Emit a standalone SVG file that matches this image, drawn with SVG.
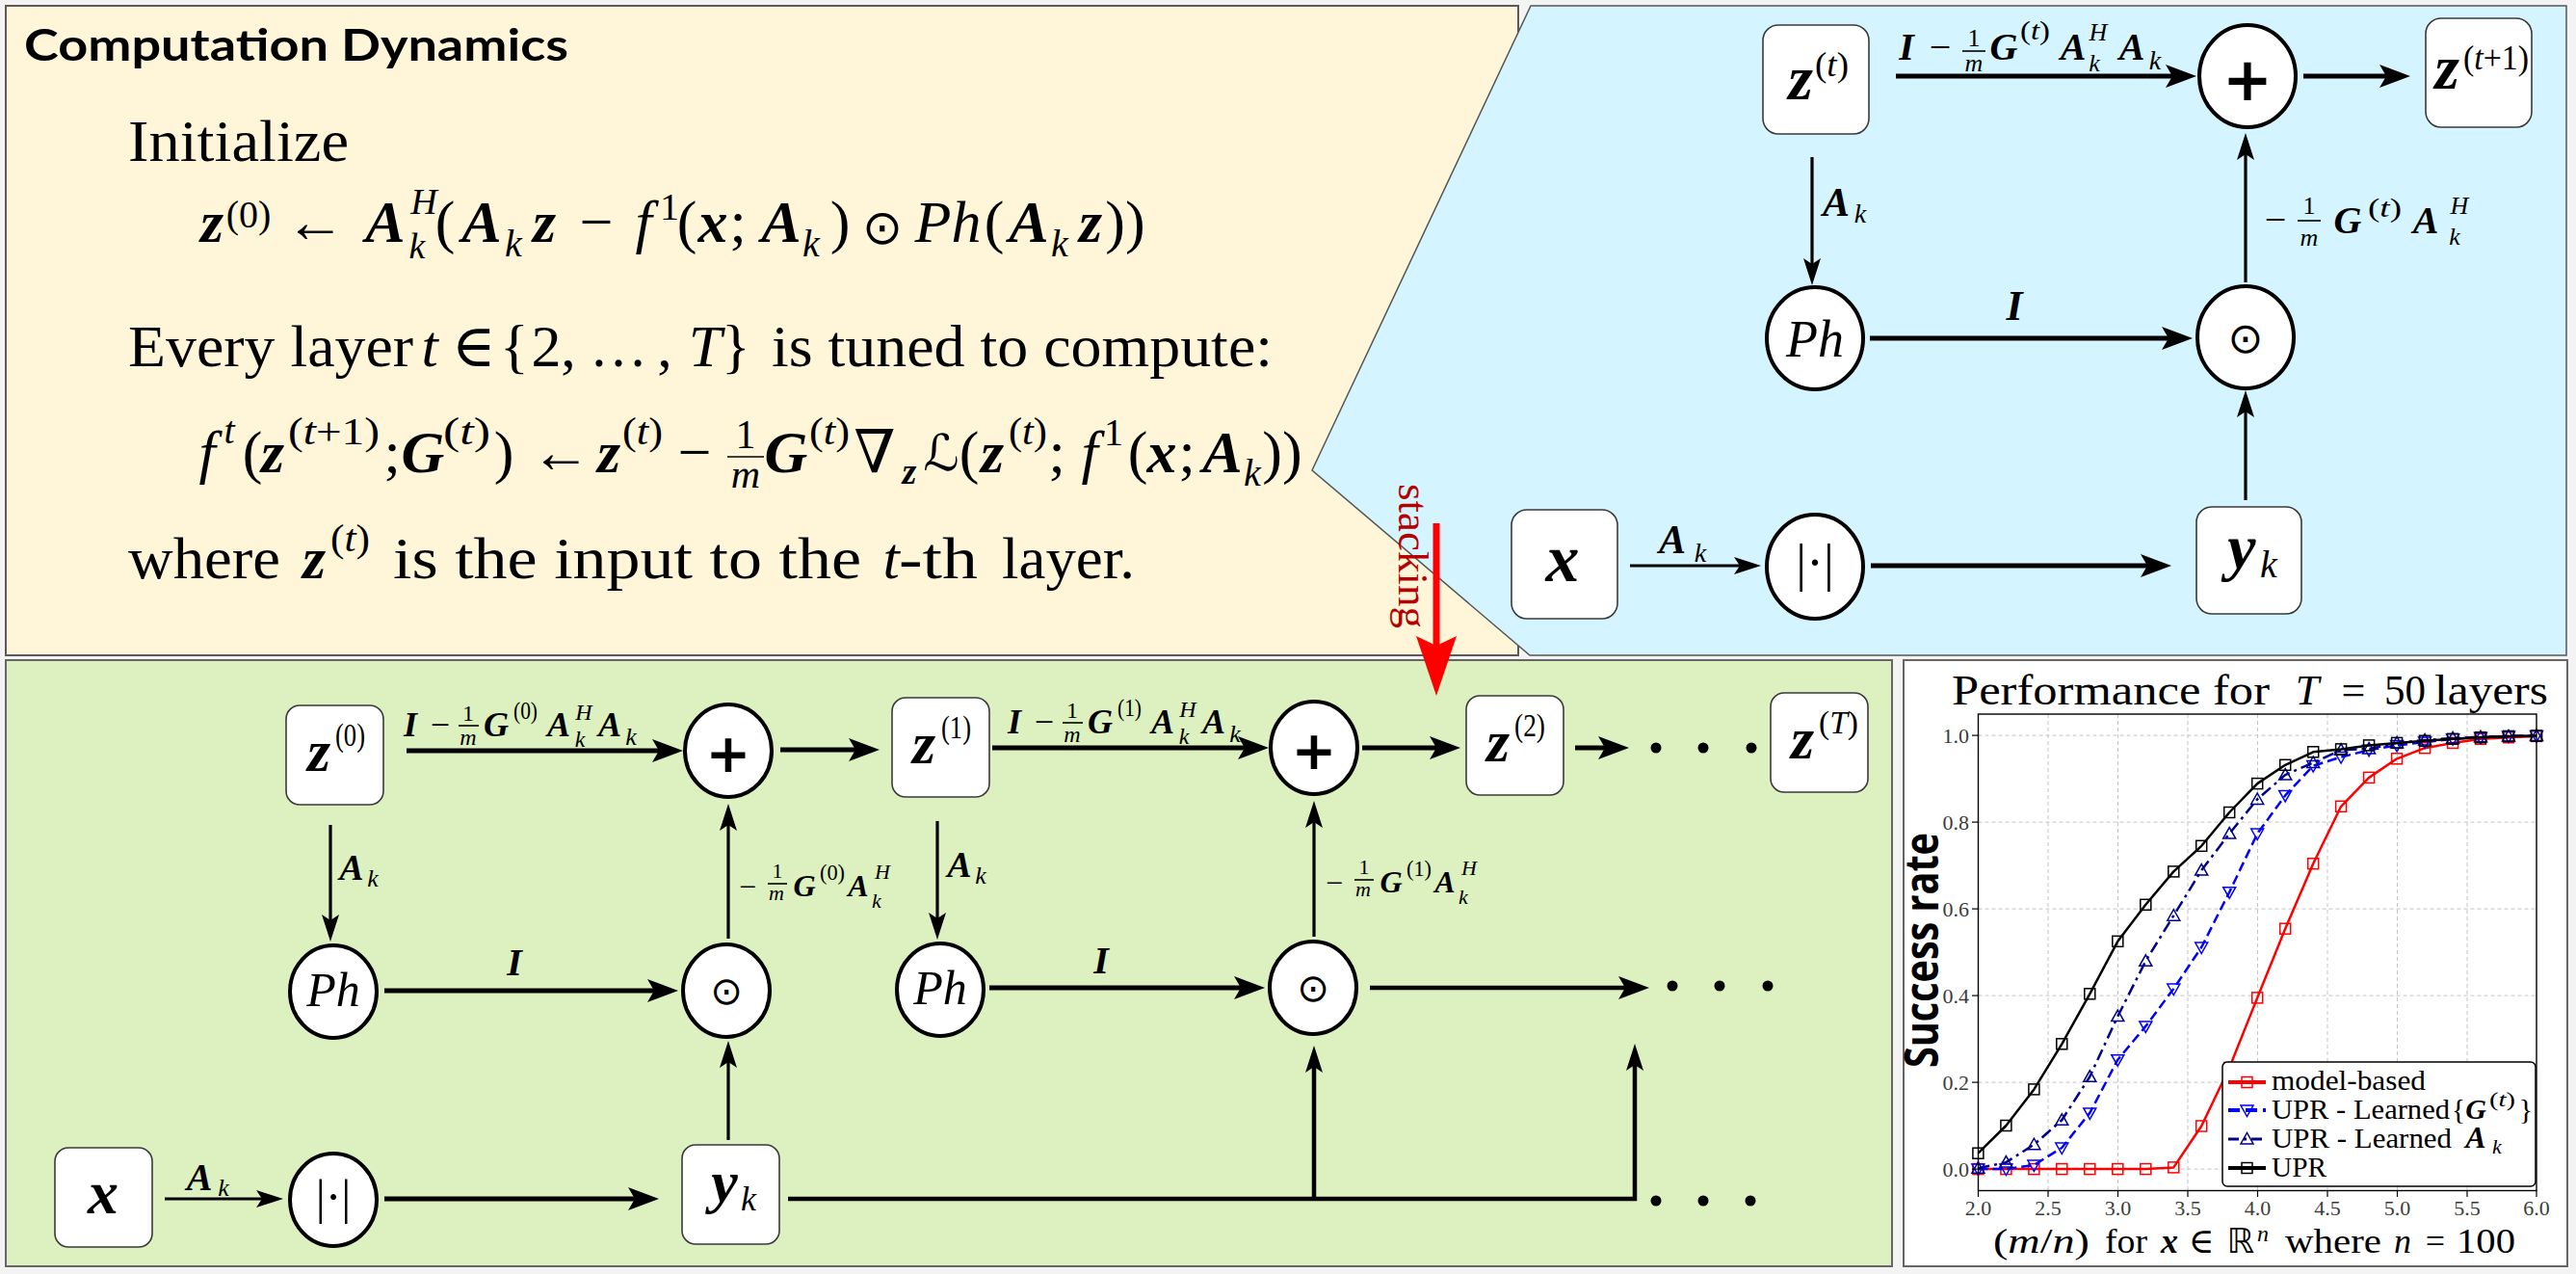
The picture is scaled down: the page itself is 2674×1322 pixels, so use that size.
<svg xmlns="http://www.w3.org/2000/svg" width="2674" height="1322" viewBox="0 0 2674 1322">
<defs>
<style>
.t{font-family:"Liberation Serif","DejaVu Serif",serif;fill:#000}
.i{font-style:italic}
.b{font-style:italic;font-weight:bold}
.m{text-anchor:middle}
.sy{font-family:"DejaVu Sans",sans-serif}
.box{fill:#fff;stroke:#3a3a3a;stroke-width:1.6}
.cir{fill:#fff;stroke:#000;stroke-width:4}
.ln{fill:none;stroke:#000}
.w5{stroke-width:5;marker-end:url(#ah)}
.w3{stroke-width:3.2;marker-end:url(#as)}
.grid{stroke:#c4c4c4;stroke-width:1;stroke-dasharray:4 3}
.tick{font-family:"Liberation Serif","DejaVu Serif",serif;font-size:22px;fill:#3c3c3c}
.bar{stroke:#000;stroke-width:1.6}
</style>
<marker id="ah" markerUnits="userSpaceOnUse" viewBox="-20 -20 40 40" markerWidth="40" markerHeight="40" refX="0" refY="0" orient="auto" overflow="visible"><path d="M22,0 L-10,-12 L-3,0 L-10,12 Z" fill="#000"/></marker>
<marker id="as" markerUnits="userSpaceOnUse" viewBox="-20 -20 40 40" markerWidth="40" markerHeight="40" refX="0" refY="0" orient="auto" overflow="visible"><path d="M18,0 L-10,-9 L-4,0 L-10,9 Z" fill="#000"/></marker>
<marker id="ar" markerUnits="userSpaceOnUse" viewBox="-40 -40 80 80" markerWidth="80" markerHeight="80" refX="0" refY="0" orient="auto" overflow="visible"><path d="M32,0 L-30,-21 L-20,0 L-30,21 Z" fill="#ff0000"/></marker>
<marker id="sqR" markerUnits="userSpaceOnUse" viewBox="-8 -8 16 16" markerWidth="16" markerHeight="16" refX="0" refY="0" overflow="visible"><rect x="-5.5" y="-5.5" width="11" height="11" fill="none" stroke="#ff0000" stroke-width="1.5"/></marker>
<marker id="sqK" markerUnits="userSpaceOnUse" viewBox="-8 -8 16 16" markerWidth="16" markerHeight="16" refX="0" refY="0" overflow="visible"><rect x="-5.5" y="-5.5" width="11" height="11" fill="none" stroke="#000" stroke-width="1.5"/></marker>
<marker id="tdB" markerUnits="userSpaceOnUse" viewBox="-8 -8 16 16" markerWidth="16" markerHeight="16" refX="0" refY="0" overflow="visible"><path d="M-6.5,-5 L6.5,-5 L0,6.5 Z" fill="none" stroke="#0000ff" stroke-width="1.5"/></marker>
<marker id="tuN" markerUnits="userSpaceOnUse" viewBox="-8 -8 16 16" markerWidth="16" markerHeight="16" refX="0" refY="0" overflow="visible"><path d="M-6.5,5 L6.5,5 L0,-6.5 Z" fill="none" stroke="#00008b" stroke-width="1.5"/></marker>
</defs>

<rect x="0" y="0" width="2674" height="1322" fill="#f3f3f3"/>

<!-- panels -->
<g id="panels">
<rect x="6" y="6" width="1570" height="674" fill="#fff5d8" stroke="#5a5a5a" stroke-width="2"/>
<polygon points="1589,6 2664,6 2664,680 1588,680 1362,488" fill="#d4f4ff" stroke="#555" stroke-width="1.5"/>
<rect x="6" y="685" width="1958" height="629" fill="#dcf0c0" stroke="#666" stroke-width="2"/>
<rect x="1976" y="685" width="689" height="629" fill="#fff" stroke="#666" stroke-width="2"/>
</g>

<!-- text panel -->
<g id="text-panel" class="t">
<text x="25" y="63" font-family="Lato,'Open Sans',sans-serif" font-weight="bold" font-size="46" textLength="565" lengthAdjust="spacingAndGlyphs">Computation Dynamics</text>
<text x="133" y="167" font-size="62" textLength="229" lengthAdjust="spacingAndGlyphs">Initialize</text>
<g font-size="62">
<text class="b m" x="220" y="251">z</text>
<text class="m" x="258" y="236" font-size="40">(0)</text>
<text class="m" x="327" y="251">←</text>
<text class="b m" x="400" y="251">A</text>
<text class="i m" x="440" y="222" font-size="38">H</text>
<text class="i m" x="433" y="268" font-size="38">k</text>
<text class="m" x="462" y="251">(</text>
<text class="b m" x="500" y="251">A</text>
<text class="i m" x="533" y="266" font-size="40">k</text>
<text class="b m" x="565" y="251">z</text>
<text class="m" x="619" y="251">−</text>
<text class="i m" x="668" y="251">f</text>
<text class="m" x="695" y="228" font-size="40">1</text>
<text class="m" x="713" y="251">(</text>
<text class="b m" x="740" y="251">x</text>
<text class="m" x="766" y="251">;</text>
<text class="b m" x="811" y="251">A</text>
<text class="i m" x="842" y="266" font-size="40">k</text>
<text class="m" x="872" y="251">)</text>
<text class="m sy" x="916" y="253" font-size="50">⊙</text>
<text class="i m" x="984" y="251">Ph</text>
<text class="m" x="1032" y="251">(</text>
<text class="b m" x="1068" y="251">A</text>
<text class="i m" x="1100" y="266" font-size="40">k</text>
<text class="b m" x="1132" y="251">z</text>
<text class="m" x="1168" y="251">))</text>

<text x="133" y="380" textLength="296" lengthAdjust="spacingAndGlyphs">Every layer</text>
<text class="i m" x="446" y="380">t</text>
<text class="m" x="492" y="380">∈</text>
<text class="m" x="534" y="380">{</text>
<text class="m" x="567" y="380">2</text>
<text class="m" x="590" y="380">,</text>
<text x="612" y="380" textLength="60" lengthAdjust="spacingAndGlyphs">…</text>
<text class="m" x="690" y="380">,</text>
<text class="i m" x="732" y="380">T</text>
<text class="m" x="764" y="380">}</text>
<text x="801" y="380" textLength="520" lengthAdjust="spacingAndGlyphs">is tuned to compute:</text>

<text class="i m" x="215" y="490">f</text>
<text class="i m" x="238" y="460" font-size="40">t</text>
<text class="m" x="262" y="490">(</text>
<text class="b m" x="283" y="490">z</text>
<text x="299" y="461" font-size="40" textLength="95" lengthAdjust="spacingAndGlyphs">(<tspan class="i">t</tspan>+1)</text>
<text class="m" x="407" y="490">;</text>
<text class="b m" x="439" y="490">G</text>
<text x="460" y="461" font-size="40" textLength="49" lengthAdjust="spacingAndGlyphs">(<tspan class="i">t</tspan>)</text>
<text class="m" x="523" y="490">)</text>
<text class="m" x="582" y="490">←</text>
<text class="b m" x="632" y="490">z</text>
<text x="646" y="461" font-size="40" textLength="42" lengthAdjust="spacingAndGlyphs">(<tspan class="i">t</tspan>)</text>
<text class="m" x="721" y="490">−</text>
<text class="m" x="774" y="465" font-size="42">1</text>
<line class="bar" x1="755" y1="474" x2="793" y2="474"/>
<text class="i m" x="774" y="506" font-size="42">m</text>
<text class="b m" x="816" y="490">G</text>
<text x="840" y="461" font-size="40" textLength="42" lengthAdjust="spacingAndGlyphs">(<tspan class="i">t</tspan>)</text>
<text class="m" x="908" y="490">∇</text>
<text class="b m" x="944" y="502" font-size="38">z</text>
<text class="m sy i" x="977" y="488" font-size="52">ℒ</text>
<text class="m" x="1006" y="490">(</text>
<text class="b m" x="1030" y="490">z</text>
<text x="1047" y="461" font-size="40" textLength="40" lengthAdjust="spacingAndGlyphs">(<tspan class="i">t</tspan>)</text>
<text class="m" x="1097" y="490">;</text>
<text class="i m" x="1131" y="490">f</text>
<text class="m" x="1156" y="462" font-size="40">1</text>
<text class="m" x="1181" y="490">(</text>
<text class="b m" x="1206" y="490">x</text>
<text class="m" x="1232" y="490">;</text>
<text class="b m" x="1269" y="490">A</text>
<text class="i m" x="1300" y="504" font-size="40">k</text>
<text class="m" x="1331" y="490">))</text>

<text x="133" y="600" textLength="158" lengthAdjust="spacingAndGlyphs">where</text>
<text class="b m" x="326" y="600">z</text>
<text x="343" y="572" font-size="40" textLength="41" lengthAdjust="spacingAndGlyphs">(<tspan class="i">t</tspan>)</text>
<text x="408" y="600" textLength="486" lengthAdjust="spacingAndGlyphs">is the input to the</text>
<text class="i m" x="925" y="600">t</text>
<text x="933" y="600" textLength="82" lengthAdjust="spacingAndGlyphs">-th</text>
<text x="1040" y="600" textLength="138" lengthAdjust="spacingAndGlyphs">layer.</text>
</g>
</g>

<!-- blue panel: single layer -->
<g id="blue-connectors" class="ln">
<path class="w5" d="M1968,79 H2258"/>
<path class="w5" d="M2391,79 H2480"/>
<path class="w3" d="M1881,163 V278"/>
<path class="w5" d="M1941,351 H2254"/>
<path class="w3" d="M2331,293 V156"/>
<path class="w3" d="M2331,519 V423"/>
<path class="w3" d="M1692,587 H1810"/>
<path class="w5" d="M1942,587 H2232"/>
</g>
<g id="blue-labels" class="t">
<text class="b m" x="1979" y="62" font-size="40">I</text>
<text class="m" x="2014" y="62" font-size="40">−</text>
<text class="m" x="2049" y="48" font-size="26">1</text>
<line class="bar" x1="2037" y1="53" x2="2061" y2="53"/>
<text class="i m" x="2049" y="74" font-size="26">m</text>
<text class="b m" x="2080" y="62" font-size="40">G</text>
<text x="2097" y="41" font-size="28" textLength="31" lengthAdjust="spacingAndGlyphs">(<tspan class="i">t</tspan>)</text>
<text class="b m" x="2152" y="62" font-size="40">A</text>
<text class="i m" x="2178" y="42" font-size="26">H</text>
<text class="i m" x="2174" y="74" font-size="26">k</text>
<text class="b m" x="2213" y="62" font-size="40">A</text>
<text class="i m" x="2237" y="72" font-size="28">k</text>

<text class="b m" x="1906" y="224" font-size="42">A</text>
<text class="i m" x="1931" y="231" font-size="28">k</text>

<text class="b m" x="2091" y="332" font-size="44">I</text>

<text class="m" x="2362" y="241" font-size="40">−</text>
<text class="m" x="2397" y="222" font-size="26">1</text>
<line class="bar" x1="2385" y1="229" x2="2409" y2="229"/>
<text class="i m" x="2397" y="255" font-size="26">m</text>
<text class="b m" x="2437" y="242" font-size="40">G</text>
<text x="2458" y="225" font-size="28" textLength="35" lengthAdjust="spacingAndGlyphs">(<tspan class="i">t</tspan>)</text>
<text class="b m" x="2518" y="242" font-size="40">A</text>
<text class="i m" x="2553" y="222" font-size="26">H</text>
<text class="i m" x="2548" y="254" font-size="26">k</text>

<text class="b m" x="1736" y="574" font-size="42">A</text>
<text class="i m" x="1765" y="583" font-size="28">k</text>
</g>
<g id="b-zt" class="t"><rect class="box" x="1830" y="26" width="110" height="113" rx="16"/><text class="b m" x="1869" y="103" font-size="66">z</text><text x="1884" y="79" font-size="36" textLength="35" lengthAdjust="spacingAndGlyphs">(<tspan class="i">t</tspan>)</text></g>
<g id="b-zt1" class="t"><rect class="box" x="2518" y="19" width="110" height="113" rx="16"/><text class="b m" x="2540" y="92" font-size="66">z</text><text x="2557" y="72" font-size="36" textLength="68" lengthAdjust="spacingAndGlyphs">(<tspan class="i">t</tspan>+1)</text></g>
<g id="b-plus" class="t"><ellipse class="cir" cx="2333" cy="79" rx="50" ry="53"/><text class="m sy" x="2333" y="104" font-size="62" font-weight="bold">+</text></g>
<g id="b-ph" class="t"><ellipse class="cir" cx="1884" cy="351" rx="50" ry="53"/><text class="i m" x="1884" y="370" font-size="54">Ph</text></g>
<g id="b-odot" class="t"><ellipse class="cir" cx="2331" cy="350" rx="50" ry="53"/><text class="m sy" x="2331" y="366" font-size="44">⊙</text></g>
<g id="b-x" class="t"><rect class="box" x="1569" y="529" width="110" height="113" rx="16"/><text class="b m" x="1622" y="603" font-size="70">x</text></g>
<g id="b-abs" class="t"><ellipse class="cir" cx="1884" cy="588" rx="50" ry="54"/><text class="m" x="1884" y="602" font-size="54">|·|</text></g>
<g id="b-yk" class="t"><rect class="box" x="2280" y="526" width="109" height="111" rx="16"/><text class="b m" x="2327" y="590" font-size="66">y</text><text class="i m" x="2355" y="599" font-size="40">k</text></g>

<!-- green panel: unrolled -->
<g id="green-connectors" class="ln">
<path class="w5" d="M422,779 H687"/>
<path class="w5" d="M810,778 H891"/>
<path class="w3" d="M343,856 V959"/>
<path class="w5" d="M399,1028 H682"/>
<path class="w3" d="M756,974 V852"/>
<path class="w3" d="M756,1183 V1098"/>
<path class="w3" d="M171,1244 H276"/>
<path class="w5" d="M399,1244 H662"/>
<path d="M818,1244 H1697 V1101" stroke-width="4.5" marker-end="url(#as)"/>
<path d="M1364,1244 V1103" stroke-width="4.5" marker-end="url(#as)"/>
<path class="w5" d="M1030,776 H1295"/>
<path class="w5" d="M1414,776 H1494"/>
<path class="w5" d="M1635,776 H1669"/>
<path class="w3" d="M973,852 V957"/>
<path class="w5" d="M1027,1025 H1291"/>
<path class="w3" d="M1364,972 V849"/>
<path d="M1422,1025 H1690" stroke-width="4.5" marker-end="url(#ah)"/>
</g>
<g id="green-dots" fill="#000">
<circle cx="1719" cy="776" r="5.5"/><circle cx="1768" cy="776" r="5.5"/><circle cx="1818" cy="776" r="5.5"/>
<circle cx="1736" cy="1023" r="5.5"/><circle cx="1785" cy="1023" r="5.5"/><circle cx="1835" cy="1023" r="5.5"/>
<circle cx="1719" cy="1246" r="5.5"/><circle cx="1768" cy="1246" r="5.5"/><circle cx="1817" cy="1246" r="5.5"/>
</g>
<g id="green-labels" class="t">
<g id="lbl-top0">
<text class="b m" x="426" y="764" font-size="36">I</text>
<text class="m" x="457" y="764" font-size="36">−</text>
<text class="m" x="486" y="748" font-size="24">1</text>
<line class="bar" x1="476" y1="753" x2="497" y2="753"/>
<text class="i m" x="486" y="773" font-size="24">m</text>
<text class="b m" x="515" y="764" font-size="36">G</text>
<text x="533" y="746" font-size="26" textLength="25" lengthAdjust="spacingAndGlyphs">(0)</text>
<text class="b m" x="580" y="764" font-size="36">A</text>
<text class="i m" x="606" y="747" font-size="24">H</text>
<text class="i m" x="602" y="775" font-size="24">k</text>
<text class="b m" x="633" y="764" font-size="36">A</text>
<text class="i m" x="655" y="773" font-size="26">k</text>
</g>
<g id="lbl-top1" transform="translate(627,-3)">
<text class="b m" x="426" y="764" font-size="36">I</text>
<text class="m" x="457" y="764" font-size="36">−</text>
<text class="m" x="486" y="748" font-size="24">1</text>
<line class="bar" x1="476" y1="753" x2="497" y2="753"/>
<text class="i m" x="486" y="773" font-size="24">m</text>
<text class="b m" x="515" y="764" font-size="36">G</text>
<text x="533" y="746" font-size="26" textLength="25" lengthAdjust="spacingAndGlyphs">(1)</text>
<text class="b m" x="580" y="764" font-size="36">A</text>
<text class="i m" x="606" y="747" font-size="24">H</text>
<text class="i m" x="602" y="775" font-size="24">k</text>
<text class="b m" x="633" y="764" font-size="36">A</text>
<text class="i m" x="655" y="773" font-size="26">k</text>
</g>
<g id="lbl-up0">
<text class="m" x="776" y="931" font-size="32">−</text>
<text class="m" x="807" y="911" font-size="22">1</text>
<line class="bar" x1="797" y1="917" x2="817" y2="917"/>
<text class="i m" x="806" y="934" font-size="22">m</text>
<text class="b m" x="835" y="930" font-size="32">G</text>
<text x="851" y="913" font-size="24" textLength="26" lengthAdjust="spacingAndGlyphs">(0)</text>
<text class="b m" x="891" y="930" font-size="32">A</text>
<text class="i m" x="916" y="912" font-size="22">H</text>
<text class="i m" x="910" y="942" font-size="22">k</text>
</g>
<g id="lbl-up1" transform="translate(609,-4)">
<text class="m" x="776" y="931" font-size="32">−</text>
<text class="m" x="807" y="911" font-size="22">1</text>
<line class="bar" x1="797" y1="917" x2="817" y2="917"/>
<text class="i m" x="806" y="934" font-size="22">m</text>
<text class="b m" x="835" y="930" font-size="32">G</text>
<text x="851" y="913" font-size="24" textLength="26" lengthAdjust="spacingAndGlyphs">(1)</text>
<text class="b m" x="891" y="930" font-size="32">A</text>
<text class="i m" x="916" y="912" font-size="22">H</text>
<text class="i m" x="910" y="942" font-size="22">k</text>
</g>
<text class="b m" x="365" y="913" font-size="38">A</text>
<text class="i m" x="387" y="920" font-size="26">k</text>
<text class="b m" x="996" y="910" font-size="38">A</text>
<text class="i m" x="1018" y="917" font-size="26">k</text>
<text class="b m" x="534" y="1012" font-size="40">I</text>
<text class="b m" x="1143" y="1010" font-size="40">I</text>
<text class="b m" x="207" y="1235" font-size="40">A</text>
<text class="i m" x="232" y="1241" font-size="26">k</text>
</g>
<g id="g-z0" class="t"><rect class="box" x="297" y="732" width="101" height="103" rx="14"/><text class="b m" x="331" y="800" font-size="62">z</text><text x="348" y="774" font-size="34" textLength="31" lengthAdjust="spacingAndGlyphs">(0)</text></g>
<g id="g-z1" class="t"><rect class="box" x="926" y="724" width="101" height="103" rx="14"/><text class="b m" x="959" y="792" font-size="62">z</text><text x="977" y="766" font-size="34" textLength="31" lengthAdjust="spacingAndGlyphs">(1)</text></g>
<g id="g-z2" class="t"><rect class="box" x="1522" y="722" width="101" height="103" rx="14"/><text class="b m" x="1555" y="790" font-size="62">z</text><text x="1572" y="764" font-size="34" textLength="32" lengthAdjust="spacingAndGlyphs">(2)</text></g>
<g id="g-zT" class="t"><rect class="box" x="1838" y="719" width="101" height="103" rx="14"/><text class="b m" x="1871" y="787" font-size="62">z</text><text x="1888" y="761" font-size="34" textLength="41" lengthAdjust="spacingAndGlyphs">(<tspan class="i">T</tspan>)</text></g>
<g id="g-plus0" class="t"><ellipse class="cir" cx="756" cy="779" rx="45" ry="48"/><text class="m sy" x="756" y="801" font-size="56" font-weight="bold">+</text></g>
<g id="g-plus1" class="t"><ellipse class="cir" cx="1364" cy="776" rx="45" ry="48"/><text class="m sy" x="1364" y="798" font-size="56" font-weight="bold">+</text></g>
<g id="g-ph0" class="t"><ellipse class="cir" cx="346" cy="1029" rx="45" ry="48"/><text class="i m" x="346" y="1044" font-size="50">Ph</text></g>
<g id="g-ph1" class="t"><ellipse class="cir" cx="976" cy="1027" rx="45" ry="48"/><text class="i m" x="976" y="1042" font-size="50">Ph</text></g>
<g id="g-odot0" class="t"><ellipse class="cir" cx="754" cy="1028" rx="45" ry="48"/><text class="m sy" x="754" y="1042" font-size="40">⊙</text></g>
<g id="g-odot1" class="t"><ellipse class="cir" cx="1363" cy="1025" rx="45" ry="48"/><text class="m sy" x="1363" y="1039" font-size="40">⊙</text></g>
<g id="g-x" class="t"><rect class="box" x="57" y="1191" width="101" height="103" rx="14"/><text class="b m" x="107" y="1259" font-size="64">x</text></g>
<g id="g-abs" class="t"><ellipse class="cir" cx="346" cy="1245" rx="45" ry="48"/><text class="m" x="346" y="1259" font-size="50">|·|</text></g>
<g id="g-yk" class="t"><rect class="box" x="708" y="1188" width="101" height="103" rx="14"/><text class="b m" x="752" y="1247" font-size="62">y</text><text class="i m" x="777" y="1256" font-size="36">k</text></g>

<!-- chart -->
<g id="chart">
<text class="t" x="2026" y="731" font-size="44" textLength="330" lengthAdjust="spacingAndGlyphs">Performance for</text>
<text class="t i m" x="2395" y="731" font-size="44">T</text>
<text class="t m" x="2443" y="731" font-size="44">=</text>
<text class="t" x="2475" y="731" font-size="44" textLength="43" lengthAdjust="spacingAndGlyphs">50</text>
<text class="t" x="2527" y="731" font-size="44" textLength="118" lengthAdjust="spacingAndGlyphs">layers</text>
<g id="grid">
<line class="grid" x1="2126" y1="741" x2="2126" y2="1235"/>
<line class="grid" x1="2198.5" y1="741" x2="2198.5" y2="1235"/>
<line class="grid" x1="2271" y1="741" x2="2271" y2="1235"/>
<line class="grid" x1="2343.5" y1="741" x2="2343.5" y2="1235"/>
<line class="grid" x1="2416" y1="741" x2="2416" y2="1235"/>
<line class="grid" x1="2488.5" y1="741" x2="2488.5" y2="1235"/>
<line class="grid" x1="2561" y1="741" x2="2561" y2="1235"/>
<line class="grid" x1="2053.5" y1="763.1" x2="2633" y2="763.1"/>
<line class="grid" x1="2053.5" y1="853.1" x2="2633" y2="853.1"/>
<line class="grid" x1="2053.5" y1="943.1" x2="2633" y2="943.1"/>
<line class="grid" x1="2053.5" y1="1033.1" x2="2633" y2="1033.1"/>
<line class="grid" x1="2053.5" y1="1123.1" x2="2633" y2="1123.1"/>
<line class="grid" x1="2053.5" y1="1213.1" x2="2633" y2="1213.1"/>
</g>
<g id="series" fill="none" stroke-linejoin="round">
<polyline stroke="#ff0000" stroke-width="2.5" marker-start="url(#sqR)" marker-mid="url(#sqR)" marker-end="url(#sqR)" points="2053.4,1213.1 2082.4,1213.1 2111.4,1213.1 2140.3,1213.1 2169.3,1213.1 2198.3,1213.1 2227.3,1213.1 2256.3,1211.4 2285.2,1168.5 2314.2,1108 2343.2,1035.4 2372.2,963.7 2401.2,896.2 2430.1,836.8 2459.1,806.9 2488.1,787.3 2517.1,776.2 2546.1,770.9 2575.0,766.8 2604.0,765.2 2633.0,763.9"/>
<polyline stroke="#0000ff" stroke-width="2.5" stroke-dasharray="10 5" marker-start="url(#tdB)" marker-mid="url(#tdB)" marker-end="url(#tdB)" points="2053.4,1213.1 2082.4,1213.1 2111.4,1209.0 2140.3,1191.0 2169.3,1154.9 2198.3,1099.7 2227.3,1064.9 2256.3,1026.0 2285.2,983.0 2314.2,925.7 2343.2,865.1 2372.2,825.4 2401.2,794.6 2430.1,785.6 2459.1,778.3 2488.1,773.4 2517.1,770.1 2546.1,766.8 2575.0,765.2 2604.0,763.9 2633.0,763.5"/>
<polyline stroke="#00008b" stroke-width="2.5" stroke-dasharray="12 5 3 5" marker-start="url(#tuN)" marker-mid="url(#tuN)" marker-end="url(#tuN)" points="2053.4,1212.3 2082.4,1206.1 2111.4,1187.7 2140.3,1162.3 2169.3,1117.3 2198.3,1054.6 2227.3,997.3 2256.3,950.2 2285.2,903.1 2314.2,865.1 2343.2,829.4 2372.2,804.1 2401.2,791.4 2430.1,778.3 2459.1,777.0 2488.1,770.9 2517.1,768.0 2546.1,766.0 2575.0,764.8 2604.0,763.9 2633.0,763.5"/>
<polyline stroke="#000" stroke-width="2.5" marker-start="url(#sqK)" marker-mid="url(#sqK)" marker-end="url(#sqK)" points="2053.4,1196.7 2082.4,1168.0 2111.4,1130.4 2140.3,1083.3 2169.3,1031.3 2198.3,976.8 2227.3,938.8 2256.3,904.4 2285.2,877.8 2314.2,843.0 2343.2,813.1 2372.2,793.8 2401.2,780.3 2430.1,777.4 2459.1,773.4 2488.1,770.9 2517.1,768.8 2546.1,766.8 2575.0,765.2 2604.0,763.9 2633.0,763.5"/>
</g>
<rect x="2053.5" y="741" width="579.5" height="494.5" fill="none" stroke="#000" stroke-width="1.4"/>
<g id="ticks" stroke="#000" stroke-width="1.2">
<line x1="2053.5" y1="1235.5" x2="2053.5" y2="1242"/><line x1="2126" y1="1235.5" x2="2126" y2="1242"/><line x1="2198.5" y1="1235.5" x2="2198.5" y2="1242"/><line x1="2271" y1="1235.5" x2="2271" y2="1242"/><line x1="2343.5" y1="1235.5" x2="2343.5" y2="1242"/><line x1="2416" y1="1235.5" x2="2416" y2="1242"/><line x1="2488.5" y1="1235.5" x2="2488.5" y2="1242"/><line x1="2561" y1="1235.5" x2="2561" y2="1242"/><line x1="2633" y1="1235.5" x2="2633" y2="1242"/>
<line x1="2047" y1="763.1" x2="2053.5" y2="763.1"/><line x1="2047" y1="853.1" x2="2053.5" y2="853.1"/><line x1="2047" y1="943.1" x2="2053.5" y2="943.1"/><line x1="2047" y1="1033.1" x2="2053.5" y2="1033.1"/><line x1="2047" y1="1123.1" x2="2053.5" y2="1123.1"/><line x1="2047" y1="1213.1" x2="2053.5" y2="1213.1"/>
</g>
<g class="tick" text-anchor="middle">
<text x="2053.5" y="1261">2.0</text><text x="2126" y="1261">2.5</text><text x="2198.5" y="1261">3.0</text><text x="2271" y="1261">3.5</text><text x="2343.5" y="1261">4.0</text><text x="2416" y="1261">4.5</text><text x="2488.5" y="1261">5.0</text><text x="2561" y="1261">5.5</text><text x="2633" y="1261">6.0</text>
</g>
<g class="tick" text-anchor="end">
<text x="2044" y="771">1.0</text><text x="2044" y="861">0.8</text><text x="2044" y="951">0.6</text><text x="2044" y="1041">0.4</text><text x="2044" y="1131">0.2</text><text x="2044" y="1221">0.0</text>
</g>
<text transform="translate(2012,986) rotate(-90)" text-anchor="middle" font-family="'Open Sans',Lato,sans-serif" font-weight="bold" font-size="48" textLength="244" lengthAdjust="spacingAndGlyphs">Success rate</text>
<g class="t" font-size="36">
<text x="2069" y="1300" textLength="100" lengthAdjust="spacingAndGlyphs">(<tspan class="i">m</tspan>/<tspan class="i">n</tspan>)</text>
<text x="2185" y="1300" textLength="44" lengthAdjust="spacingAndGlyphs">for</text>
<text class="b m" x="2252" y="1300">x</text>
<text class="m" x="2285" y="1300">∈</text>
<text class="m sy" x="2326" y="1300">ℝ</text>
<text class="i m" x="2349" y="1288" font-size="24">n</text>
<text x="2372" y="1300" textLength="100" lengthAdjust="spacingAndGlyphs">where</text>
<text class="i m" x="2494" y="1300">n</text>
<text class="m" x="2528" y="1300">=</text>
<text x="2550" y="1300" textLength="61" lengthAdjust="spacingAndGlyphs">100</text>
</g>
<g id="legend">
<rect x="2307" y="1102" width="325" height="129" rx="5" fill="#fff" stroke="#000" stroke-width="1.5"/>
<polyline fill="none" stroke="#ff0000" stroke-width="4" marker-mid="url(#sqR)" points="2313,1123 2332.5,1123 2352,1123"/>
<polyline fill="none" stroke="#0000ff" stroke-width="4" stroke-dasharray="12 6" marker-mid="url(#tdB)" points="2313,1152 2332.5,1152 2352,1152"/>
<polyline fill="none" stroke="#00008b" stroke-width="3" stroke-dasharray="11 5 3 5" marker-mid="url(#tuN)" points="2313,1182 2332.5,1182 2352,1182"/>
<polyline fill="none" stroke="#000" stroke-width="4" marker-mid="url(#sqK)" points="2313,1212 2332.5,1212 2352,1212"/>
<g class="t" font-size="30">
<text x="2358" y="1131" textLength="160" lengthAdjust="spacingAndGlyphs">model-based</text>
<text x="2358" y="1161" textLength="185" lengthAdjust="spacingAndGlyphs">UPR - Learned</text>
<text class="m" x="2552" y="1161">{</text>
<text class="b m" x="2570" y="1161">G</text>
<text x="2584" y="1148" font-size="20" textLength="27" lengthAdjust="spacingAndGlyphs">(<tspan class="i">t</tspan>)</text>
<text class="m" x="2622" y="1161">}</text>
<text x="2358" y="1191" textLength="187" lengthAdjust="spacingAndGlyphs">UPR - Learned</text>
<text class="b m" x="2570" y="1191" font-size="32">A</text>
<text class="i m" x="2592" y="1197" font-size="22">k</text>
<text x="2358" y="1221" textLength="57" lengthAdjust="spacingAndGlyphs">UPR</text>
</g>
</g>
</g>

<!-- stacking arrow -->
<g id="stacking">
<text class="t" transform="translate(1452,502) rotate(90)" font-size="44" textLength="150" lengthAdjust="spacingAndGlyphs" style="fill:#b40000">stacking</text>
<path d="M1491,543 V690" stroke="#ff0000" stroke-width="7" fill="none" marker-end="url(#ar)"/>
</g>
</svg>
